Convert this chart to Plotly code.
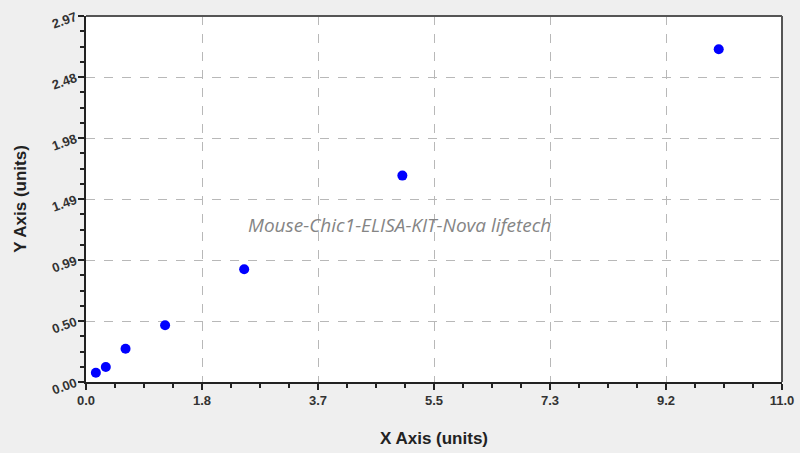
import plotly.graph_objects as go

x_values = [0.156, 0.313, 0.625, 1.25, 2.5, 5.0, 10.0]
y_values = [0.075, 0.122, 0.27, 0.46, 0.915, 1.675, 2.70]

x_tickvals = [0, 11/6, 22/6, 33/6, 44/6, 55/6, 11]
x_ticktext = ["0.0", "1.8", "3.7", "5.5", "7.3", "9.2", "11.0"]
y_tickvals = [0, 0.495, 0.99, 1.485, 1.98, 2.475, 2.97]
y_ticktext = ["0.00", "0.50", "0.99", "1.49", "1.98", "2.48", "2.97"]

fig = go.Figure()
fig.add_trace(go.Scatter(
    x=x_values, y=y_values, mode="markers",
    marker=dict(color="#0000ff", size=10, line=dict(width=0)),
    showlegend=False,
))

axis_common = dict(
    showline=True, linecolor="#222222", linewidth=1.5, mirror=False,
    ticks="outside", ticklen=6, tickcolor="#222222", tickwidth=1.5,
    showgrid=True, gridcolor="#b8b8b8", griddash="dash", gridwidth=1,
    zeroline=False, automargin=False,
    tickfont=dict(family="Liberation Sans, Arial", size=13, color="#333333", weight="bold"),
    minor=dict(ticks="outside", ticklen=4, tickcolor="#222222", showgrid=False),
)

fig.update_xaxes(
    range=[0, 11], tickmode="array", tickvals=x_tickvals, ticktext=x_ticktext,
    title=dict(text="X Axis (units)", font=dict(family="Liberation Sans, Arial", size=17, color="#222222", weight="bold"), standoff=25),
    **axis_common,
)
fig.update_yaxes(
    range=[0, 2.97], tickmode="array", tickvals=y_tickvals, ticktext=y_ticktext,
    tickangle=-20,
    title=dict(text="Y Axis (units)", font=dict(family="Liberation Sans, Arial", size=17, color="#222222", weight="bold"), standoff=19),
    **axis_common,
)
fig.update_xaxes(minor=dict(tickvals=[i * 11 / 24 for i in range(25)]))
fig.update_yaxes(minor=dict(tickvals=[i * 2.97 / 24 for i in range(25)]))

# frame on top/right
fig.add_shape(type="line", xref="paper", yref="paper", x0=0, x1=1, y0=1, y1=1,
              line=dict(color="#555555", width=2))
fig.add_shape(type="line", xref="paper", yref="paper", x0=1, x1=1, y0=0, y1=1,
              line=dict(color="#555555", width=2))

fig.add_annotation(
    x=0.45, y=0.43, xref="paper", yref="paper",
    text="<i>Mouse-Chic1-ELISA-KIT-Nova lifetech</i>", showarrow=False,
    font=dict(family="Open Sans, Liberation Sans", size=19, color="#858585"),
)

fig.update_layout(
    width=800, height=453,
    margin=dict(l=86, r=18, t=16, b=71),
    paper_bgcolor="#efefef", plot_bgcolor="#ffffff",
)

fig.write_html("out.html", config=dict(displayModeBar=False),
               post_script="document.body.style.margin='0';document.body.style.overflow='hidden';")
